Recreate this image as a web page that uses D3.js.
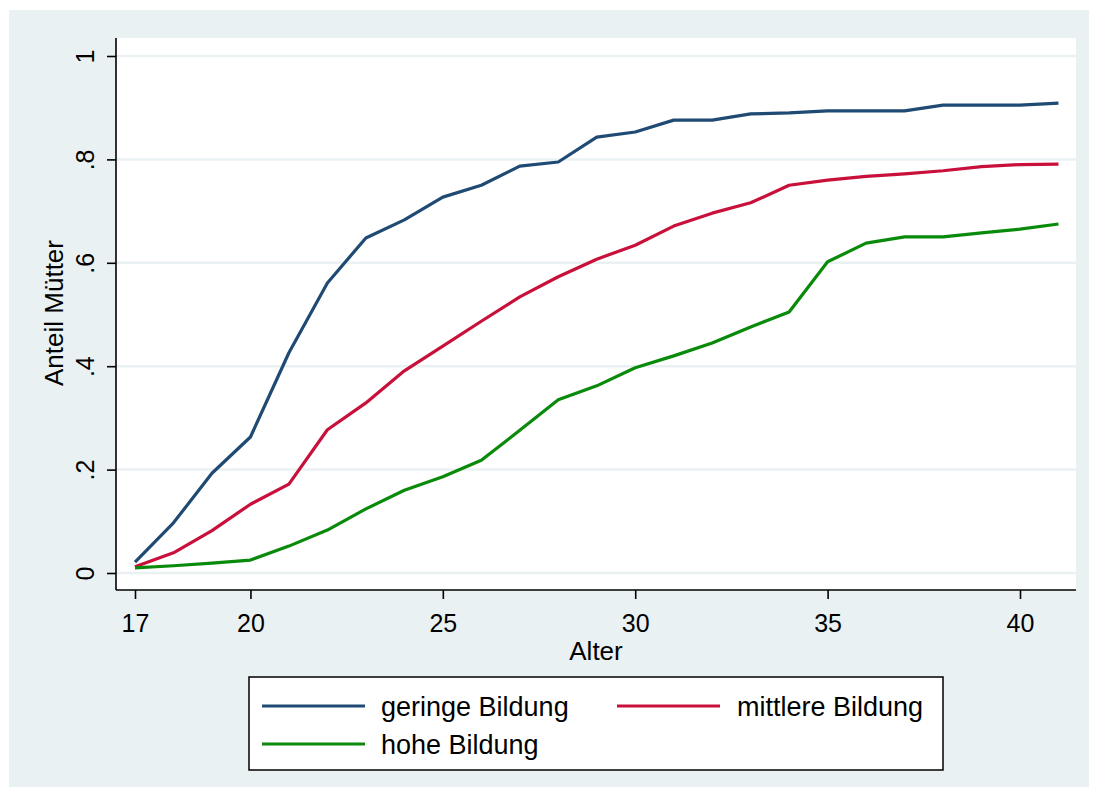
<!DOCTYPE html>
<html>
<head>
<meta charset="utf-8">
<script src="https://cdn.jsdelivr.net/npm/d3@7/dist/d3.min.js"></script>
<style>
  html, body { margin: 0; padding: 0; background: #ffffff; }
  svg { display: block; font-family: "Liberation Sans", Arial, sans-serif; }
</style>
</head>
<body>
<svg id="chart" width="1098" height="796"></svg>
<script>
const ages = d3.range(17, 42);
const geringe = [0.021, 0.097, 0.193, 0.263, 0.426, 0.561, 0.648, 0.683, 0.727, 0.750, 0.787, 0.795, 0.843, 0.853, 0.876, 0.876, 0.888, 0.890, 0.894, 0.894, 0.894, 0.905, 0.905, 0.905, 0.909];
const mittlere = [0.012, 0.039, 0.082, 0.133, 0.172, 0.277, 0.329, 0.391, 0.439, 0.487, 0.534, 0.573, 0.607, 0.634, 0.671, 0.696, 0.716, 0.750, 0.760, 0.767, 0.772, 0.778, 0.786, 0.790, 0.791];
const hohe = [0.010, 0.014, 0.019, 0.025, 0.052, 0.083, 0.124, 0.160, 0.186, 0.218, 0.276, 0.335, 0.362, 0.397, 0.420, 0.445, 0.476, 0.505, 0.602, 0.638, 0.650, 0.650, 0.658, 0.665, 0.675];
const seriesNames = ["geringe Bildung", "mittlere Bildung", "hohe Bildung"];
const seriesColors = ["#1f4a73", "#c8103a", "#0a8a0a"];
const xTicks = [17, 20, 25, 30, 35, 40];
const yTicks = [0, 0.2, 0.4, 0.6, 0.8, 1];
const yTickLabels = ["0", ".2", ".4", ".6", ".8", "1"];

const svg = d3.select("#chart");
const bg = "#eaf1f3";

// outer background
svg.append("rect").attr("x", 9).attr("y", 10).attr("width", 1080).attr("height", 777).attr("fill", bg);

const plot = { left: 116, right: 1076, top: 38, bottom: 590 };
svg.append("rect").attr("x", plot.left).attr("y", plot.top)
  .attr("width", plot.right - plot.left).attr("height", plot.bottom - plot.top).attr("fill", "#ffffff");

const x = d3.scaleLinear().domain([17, 40]).range([135, 1020]);
const y = d3.scaleLinear().domain([0, 1]).range([573, 56]);

// gridlines
svg.append("g").selectAll("line").data(yTicks).join("line")
  .attr("x1", plot.left).attr("x2", plot.right)
  .attr("y1", d => y(d)).attr("y2", d => y(d))
  .attr("stroke", bg).attr("stroke-width", 2.5);

// y axis
const yAxis = d3.axisLeft(y).tickValues(yTicks).tickSize(9).tickPadding(0)
  .tickFormat((d, i) => yTickLabels[i]);
const gy = svg.append("g").attr("transform", `translate(${plot.left},0)`).call(yAxis);
gy.select(".domain").attr("d", `M0,${plot.top}V${plot.bottom}`).attr("stroke", "#000").attr("stroke-width", 1.6);
gy.selectAll(".tick line").attr("stroke", "#000").attr("stroke-width", 1.6);
gy.selectAll(".tick text")
  .attr("x", null).attr("dy", null)
  .attr("transform", "translate(-22,0) rotate(-90)")
  .attr("text-anchor", "middle")
  .attr("font-size", 25).attr("fill", "#000")
  .attr("font-family", "Liberation Sans, Arial, sans-serif");

// x axis
const xAxis = d3.axisBottom(x).tickValues(xTicks).tickSize(9).tickPadding(0).tickFormat(d3.format("d"));
const gx = svg.append("g").attr("transform", `translate(0,${plot.bottom})`).call(xAxis);
gx.select(".domain").attr("d", `M${plot.left},0H${plot.right}`).attr("stroke", "#000").attr("stroke-width", 1.6);
gx.selectAll(".tick line").attr("stroke", "#000").attr("stroke-width", 1.6);
gx.selectAll(".tick text")
  .attr("y", 42).attr("dy", null)
  .attr("font-size", 25).attr("fill", "#000")
  .attr("font-family", "Liberation Sans, Arial, sans-serif");

// axis titles
svg.append("text").attr("x", (plot.left + plot.right) / 2).attr("y", 660)
  .attr("text-anchor", "middle").attr("font-size", 26).text("Alter");
svg.append("text").attr("transform", "translate(63,313) rotate(-90)")
  .attr("text-anchor", "middle").attr("font-size", 26).text("Anteil Mütter");

// lines
const allSeries = [geringe, mittlere, hohe];
const line = d3.line().x((d, i) => x(ages[i])).y(d => y(d));
svg.append("g").selectAll("path").data(allSeries).join("path")
  .attr("d", d => line(d))
  .attr("fill", "none")
  .attr("stroke", (d, i) => seriesColors[i])
  .attr("stroke-width", 3.2)
  .attr("stroke-linejoin", "round");

// legend
const lg = svg.append("g");
lg.append("rect").attr("x", 249).attr("y", 677).attr("width", 694).attr("height", 93)
  .attr("fill", "#ffffff").attr("stroke", "#000").attr("stroke-width", 1.5);
const legendPos = [
  { lx: 262, ly: 706, tx: 381 },
  { lx: 617, ly: 706, tx: 737 },
  { lx: 262, ly: 744, tx: 381 }
];
seriesNames.forEach((name, i) => {
  const p = legendPos[i];
  lg.append("line").attr("x1", p.lx).attr("x2", p.lx + 103).attr("y1", p.ly).attr("y2", p.ly)
    .attr("stroke", seriesColors[i]).attr("stroke-width", 3.2);
  lg.append("text").attr("x", p.tx).attr("y", p.ly + 10).attr("font-size", 27).attr("fill", "#000").text(name);
});
</script>
</body>
</html>
